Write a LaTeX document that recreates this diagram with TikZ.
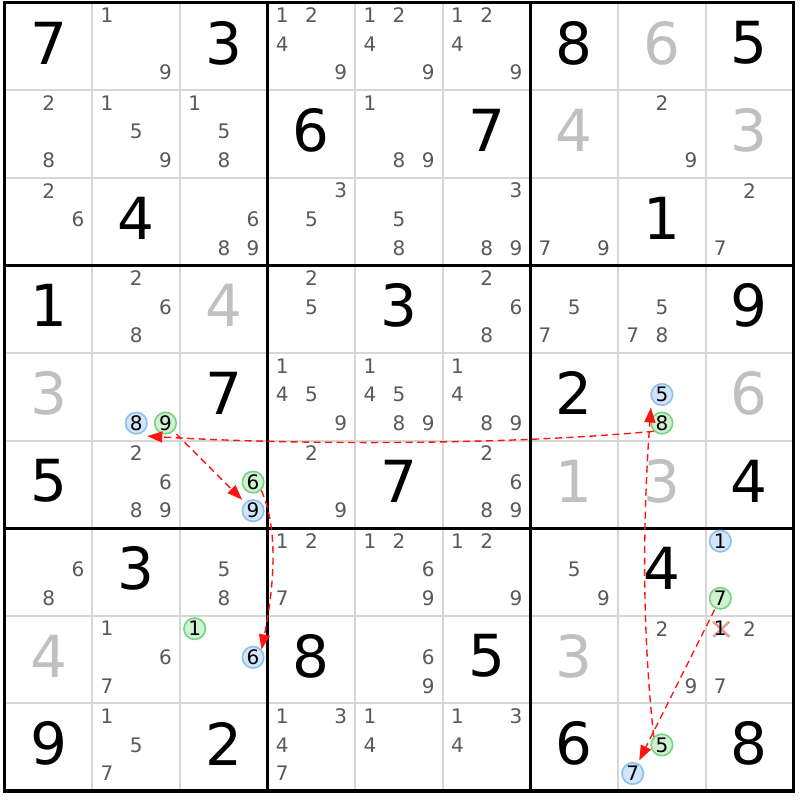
\documentclass[tikz,border=0pt]{standalone}
\usepackage{fontspec}
\setmainfont{DejaVu Sans}
\usetikzlibrary{arrows.meta,calc}
\definecolor{candgray}{RGB}{88,88,94}
\definecolor{solvgray}{RGB}{192,192,192}
\definecolor{gridgray}{RGB}{214,214,214}
\definecolor{hlblue}{RGB}{210,229,250}
\definecolor{hlblueb}{RGB}{140,192,240}
\definecolor{hlgreen}{RGB}{208,240,210}
\definecolor{hlgreenb}{RGB}{120,210,130}
\definecolor{xpink}{RGB}{240,150,150}
\definecolor{chainred}{RGB}{255,20,20}
\newcommand\sdcands[3]{%
  \foreach \k in {#3}{%
    \pgfmathtruncatemacro\sdcol{mod(\k-1,3)}%
    \pgfmathtruncatemacro\sdrow{floor((\k-1)/3)}%
    \node[cand] (n-#1-#2-\k) at ({4.7+#2*87.6+14.8+\sdcol*29.2},{2.5+#1*87.6+13+\sdrow*28.6}) {\k};
  }}
\newcommand\sdhl[4]{%
  \pgfmathtruncatemacro\sdcol{mod(#3-1,3)}%
  \pgfmathtruncatemacro\sdrow{floor((#3-1)/3)}%
  \node[cand,#4] (n-#1-#2-#3) at ({4.7+#2*87.6+14.8+\sdcol*29.2},{2.5+#1*87.6+13+\sdrow*28.6}) {#3};}
\newcommand\sdgiven[4]{%
  \node[#4] (g-#1-#2) at ({4.7+#2*87.6+43.8},{2.5+#1*87.6+40.5}) {#3};}
\begin{document}
\begin{tikzpicture}[x=1pt,y=-1pt,
  cand/.style={text=candgray, font=\fontsize{20}{21}\selectfont, inner sep=0pt},
  given/.style={text=black, font=\fontsize{58}{60}\selectfont, inner sep=0pt},
  solved/.style={given, text=solvgray},
  hlb/.style={circle, draw=hlblueb, fill=hlblue, line width=1.6pt, minimum size=21.5pt, text=black},
  hlg/.style={circle, draw=hlgreenb, fill=hlgreen, line width=1.6pt, minimum size=21.5pt, text=black},
  chain/.style={draw=chainred, dash pattern=on 7pt off 4.5pt, line width=1.4pt, -{Triangle[length=15pt,width=11pt,fill=chainred]}}
]
\useasboundingbox (0,0) rectangle (800,800);
\fill[white] (0,0) rectangle (800,800);
% grid
\foreach \i in {1,2,4,5,7,8}{
  \draw[gridgray, line width=2pt] ({4.7+\i*87.6},2.5) -- ({4.7+\i*87.6},{2.5+9*87.6});
  \draw[gridgray, line width=2pt] (4.7,{2.5+\i*87.6}) -- ({4.7+9*87.6},{2.5+\i*87.6});
}
\foreach \i in {3,6}{
  \draw[black, line width=3.2pt] ({4.7+\i*87.6},2.5) -- ({4.7+\i*87.6},{2.5+9*87.6});
  \draw[black, line width=3.2pt] (4.7,{2.5+\i*87.6}) -- ({4.7+9*87.6},{2.5+\i*87.6});
}
\draw[black, line width=3.2pt] (4.7,2.5) rectangle ({4.7+9*87.6},{2.5+9*87.6});
% givens
\sdgiven{0}{0}{7}{given}\sdgiven{0}{2}{3}{given}\sdgiven{0}{6}{8}{given}\sdgiven{0}{8}{5}{given}
\sdgiven{1}{3}{6}{given}\sdgiven{1}{5}{7}{given}
\sdgiven{2}{1}{4}{given}\sdgiven{2}{7}{1}{given}
\sdgiven{3}{0}{1}{given}\sdgiven{3}{4}{3}{given}\sdgiven{3}{8}{9}{given}
\sdgiven{4}{2}{7}{given}\sdgiven{4}{6}{2}{given}
\sdgiven{5}{0}{5}{given}\sdgiven{5}{4}{7}{given}\sdgiven{5}{8}{4}{given}
\sdgiven{6}{1}{3}{given}\sdgiven{6}{7}{4}{given}
\sdgiven{7}{3}{8}{given}\sdgiven{7}{5}{5}{given}
\sdgiven{8}{0}{9}{given}\sdgiven{8}{2}{2}{given}\sdgiven{8}{6}{6}{given}\sdgiven{8}{8}{8}{given}
% solved
\sdgiven{0}{7}{6}{solved}\sdgiven{1}{6}{4}{solved}\sdgiven{1}{8}{3}{solved}
\sdgiven{3}{2}{4}{solved}\sdgiven{4}{0}{3}{solved}\sdgiven{4}{8}{6}{solved}
\sdgiven{5}{6}{1}{solved}\sdgiven{5}{7}{3}{solved}\sdgiven{7}{0}{4}{solved}\sdgiven{7}{6}{3}{solved}
% candidates
\sdcands{0}{1}{1,9}
\sdcands{0}{3}{1,2,4,9}
\sdcands{0}{4}{1,2,4,9}
\sdcands{0}{5}{1,2,4,9}
\sdcands{1}{0}{2,8}
\sdcands{1}{1}{1,5,9}
\sdcands{1}{2}{1,5,8}
\sdcands{1}{4}{1,8,9}
\sdcands{1}{7}{2,9}
\sdcands{2}{0}{2,6}
\sdcands{2}{2}{6,8,9}
\sdcands{2}{3}{3,5}
\sdcands{2}{4}{5,8}
\sdcands{2}{5}{3,8,9}
\sdcands{2}{6}{7,9}
\sdcands{2}{8}{2,7}
\sdcands{3}{1}{2,6,8}
\sdcands{3}{3}{2,5}
\sdcands{3}{5}{2,6,8}
\sdcands{3}{6}{5,7}
\sdcands{3}{7}{5,7,8}
\sdcands{4}{3}{1,4,5,9}
\sdcands{4}{4}{1,4,5,8,9}
\sdcands{4}{5}{1,4,8,9}
\sdcands{5}{1}{2,6,8,9}
\sdcands{5}{3}{2,9}
\sdcands{5}{5}{2,6,8,9}
\sdcands{6}{0}{6,8}
\sdcands{6}{2}{5,8}
\sdcands{6}{3}{1,2,7}
\sdcands{6}{4}{1,2,6,9}
\sdcands{6}{5}{1,2,9}
\sdcands{6}{6}{5,9}
\sdcands{7}{1}{1,6,7}
\sdcands{7}{4}{6,9}
\sdcands{7}{7}{2,9}
\sdcands{7}{8}{2,7}
\sdcands{8}{1}{1,5,7}
\sdcands{8}{3}{1,3,4,7}
\sdcands{8}{4}{1,4}
\sdcands{8}{5}{1,3,4}
% eliminated candidate with cross
\coordinate (x-7-8) at ({4.7+8*87.6+14.8},{2.5+7*87.6+13});
\draw[xpink, line width=2.5pt] ($(x-7-8)+(-7,-7)$) -- ($(x-7-8)+(9,8)$);
\draw[xpink, line width=2.5pt] ($(x-7-8)+(-7,8)$) -- ($(x-7-8)+(9,-7)$);
\node[cand, text=black] (n-7-8-1) at (x-7-8) {1};
% highlighted candidates
\sdhl{4}{1}{8}{hlb}\sdhl{4}{1}{9}{hlg}
\sdhl{4}{7}{5}{hlb}\sdhl{4}{7}{8}{hlg}
\sdhl{5}{2}{6}{hlg}\sdhl{5}{2}{9}{hlb}
\sdhl{6}{8}{1}{hlb}\sdhl{6}{8}{7}{hlg}
\sdhl{7}{2}{1}{hlg}\sdhl{7}{2}{6}{hlb}
\sdhl{8}{7}{5}{hlg}\sdhl{8}{7}{7}{hlb}
% chain arrows
\draw[chain] (n-4-7-8.225) .. controls +(-150,14) and +(150,9) .. ($(n-4-1-8)+(11,13)$);
\draw[chain, shorten <=4pt, shorten >=4pt] (n-4-1-9) -- (n-5-2-9);
\draw[chain] (n-5-2-6.-45) .. controls +(16,35) and +(14,-70) .. (n-7-2-6.43);
\draw[chain] (n-8-7-5.135) .. controls +(-12,-110) and +(-8,110) .. ($(n-4-7-5)+(-11,13)$);
\draw[chain, shorten <=1pt, shorten >=3pt] (n-6-8-7) -- (n-8-7-7);
\end{tikzpicture}
\end{document}
